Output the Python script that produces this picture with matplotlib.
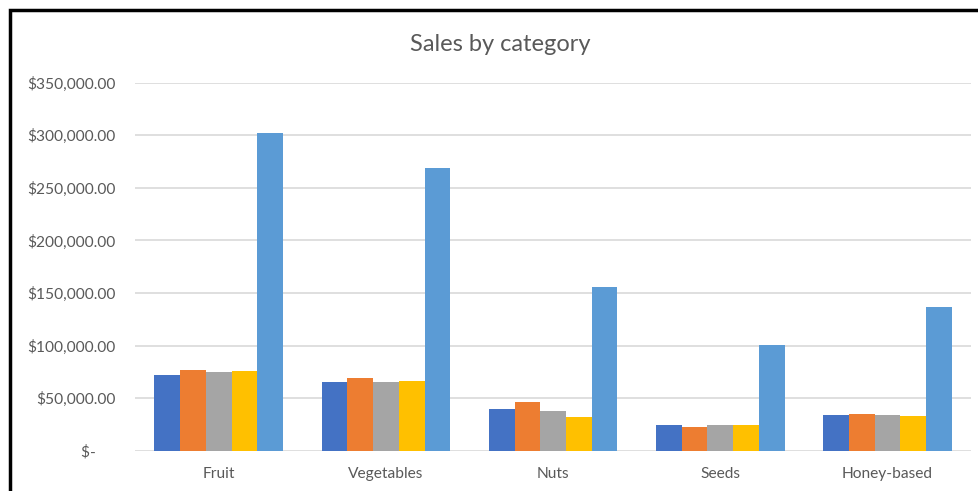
import numpy as np
import matplotlib.pyplot as plt
from matplotlib.patches import Rectangle
from matplotlib.ticker import FuncFormatter

# Data
categories = ["Fruit", "Vegetables", "Nuts", "Seeds", "Honey-based"]
qtr1 = [71700, 65300, 39600, 24700, 33600]
qtr2 = [76700, 68800, 46000, 22800, 34600]
qtr3 = [75100, 65300, 37800, 24700, 33600]
qtr4 = [76000, 66000, 32000, 24700, 32700]
total = [301700, 268400, 155500, 100500, 136600]

series = [qtr1, qtr2, qtr3, qtr4, total]
colors = ["#4472C4", "#ED7D31", "#A5A5A5", "#FFC000", "#5B9BD5"]
yticks = [0, 50000, 100000, 150000, 200000, 250000, 300000, 350000]

plt.rcParams['font.family'] = ['Lato', 'DejaVu Sans']

fig = plt.figure(figsize=(9.79, 4.91), dpi=100)
ax = fig.add_axes([0.138, 0.082, 0.854, 0.7496])

x = np.arange(len(categories))
bar_w = 1 / 6.5  # gap width 150%
for i, (vals, c) in enumerate(zip(series, colors)):
    ax.bar(x + (i - 2) * bar_w, vals, width=bar_w, color=c, zorder=3)

ax.set_xlim(-0.5, len(categories) - 0.5)
ax.set_ylim(0, 350000)
ax.set_yticks(yticks)
ax.yaxis.set_major_formatter(FuncFormatter(lambda v, p: "$-     " if v == 0 else f"${v:,.2f}"))
ax.set_xticks(x)
ax.set_xticklabels(categories)
ax.grid(axis='y', color='#D9D9D9', linewidth=1.2, zorder=0)
for s in ax.spines.values():
    s.set_visible(False)
ax.tick_params(length=0, labelsize=11.2, labelcolor='#595959')
ax.tick_params(axis='y', pad=14)
ax.tick_params(axis='x', pad=12)

fig.text(0.511, 0.91, "Sales by category", ha='center', va='center', fontsize=17, color='#595959')

# chart border (cropped on right and bottom)
fig.add_artist(Rectangle((9.5 / 979, -0.1), 1.2, 1 - 9.5 / 491 + 0.1, transform=fig.transFigure,
                         fill=False, edgecolor='black', linewidth=2.5))

fig.savefig("out.png", dpi=100)
